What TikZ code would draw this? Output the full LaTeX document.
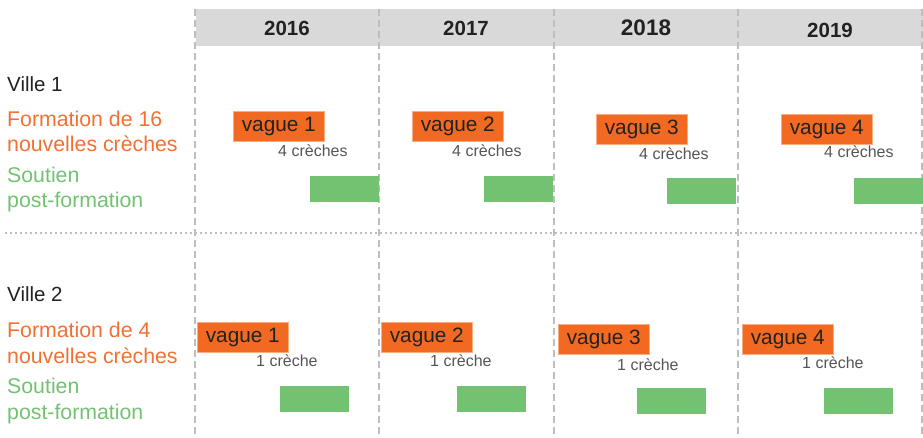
\documentclass[tikz,border=0pt]{standalone}
\usepackage{fontspec}
\setmainfont{Liberation Sans}
\usetikzlibrary{positioning}
\definecolor{vagueorange}{RGB}{242,106,34}
\definecolor{labelorange}{RGB}{242,112,50}
\definecolor{bargreen}{RGB}{114,194,113}
\definecolor{headgray}{RGB}{217,217,217}
\definecolor{linegray}{RGB}{190,190,190}
\definecolor{textdark}{RGB}{34,34,34}
\definecolor{textgray}{RGB}{85,85,85}

\begin{document}
\begin{tikzpicture}[x=1pt,y=-1pt,
	year/.style={font=\fontsize{20.5}{24}\selectfont\bfseries, text=textdark, inner sep=0},
	city/.style={anchor=base west, inner sep=0, text=textdark, font=\fontsize{20.5}{24}\selectfont},
	formtxt/.style={city, text=labelorange, font=\fontsize{21.3}{25}\selectfont},
	soutxt/.style={city, text=bargreen, font=\fontsize{21.3}{25}\selectfont},
	vague/.style={anchor=north west, fill=vagueorange, draw=vagueorange!55!white, line width=0.6pt,
		minimum width=91, minimum height=30, inner sep=0, text=textdark, font=\fontsize{20.8}{24}\selectfont},
	nb/.style={anchor=base west, inner sep=0, text=textgray, font=\fontsize{16}{19}\selectfont},
	bar/.style={anchor=north west, fill=bargreen, minimum width=69, minimum height=26, inner sep=0},
	colline/.style={linegray, line width=2pt, dash pattern=on 7pt off 4pt}]
			\useasboundingbox (0,0) rectangle (923,438);
			\fill[headgray] (196,9) rectangle (923,46);
			\node[year] (y2016) at (287,28) {2016};
			\node[year] (y2017) at (466,28) {2017};
			\node[year, font=\fontsize{22.5}{26}\selectfont\bfseries] (y2018) at (646,28) {2018};
			\node[year] (y2019) at (830,30) {2019};
			\draw[colline] (195,9) -- (195,438);
			\draw[colline] (379,9) -- (379,438);
			\draw[colline] (554,9) -- (554,438);
			\draw[colline] (738,9) -- (738,438);
			\draw[colline] (922,9) -- (922,438);
			\draw[linegray, line width=1.3pt, dash pattern=on 1.8pt off 3.2pt] (5,233) -- (923,233);
			% ville 1
			\node[city] (ville1) at (7,92) {Ville 1};
			\node[formtxt] (form1) at (7,127) {Formation de 16};
			\node[formtxt] (form1b) at (7,152) {nouvelles crèches};
			\node[soutxt] (sout1) at (7,183) {Soutien};
			\node[soutxt] (sout1b) at (7,208) {post-formation};
			\node[vague] (va1) at (233,111) {vague 1};
			\node[vague] (va2) at (412,111) {vague 2};
			\node[vague] (va3) at (596,114) {vague 3};
			\node[vague] (va4) at (781,114) {vague 4};
			\node[nb] (na1) at (278,157) {4 crèches};
			\node[nb] (na2) at (452,157) {4 crèches};
			\node[nb] (na3) at (639,160) {4 crèches};
			\node[nb] (na4) at (824,158) {4 crèches};
			\node[bar] (ba1) at (310,176) {};
			\node[bar] (ba2) at (484,176) {};
			\node[bar] (ba3) at (667,178) {};
			\node[bar] (ba4) at (854,178) {};
			% ville 2
			\node[city] (ville2) at (7,301) {Ville 2};
			\node[formtxt] (form2) at (7,337) {Formation de 4};
			\node[formtxt] (form2b) at (7,363) {nouvelles crèches};
			\node[soutxt] (sout2) at (7,393) {Soutien};
			\node[soutxt] (sout2b) at (7,419) {post-formation};
			\node[vague] (vb1) at (197,322) {vague 1};
			\node[vague] (vb2) at (381,322) {vague 2};
			\node[vague] (vb3) at (558,324) {vague 3};
			\node[vague] (vb4) at (742,324) {vague 4};
			\node[nb] (nb1) at (256,366) {1 crèche};
			\node[nb] (nb2) at (430,366) {1 crèche};
			\node[nb] (nb3) at (617,370) {1 crèche};
			\node[nb] (nb4) at (802,368) {1 crèche};
			\node[bar] (bb1) at (280,386) {};
			\node[bar] (bb2) at (457,386) {};
			\node[bar] (bb3) at (637,388) {};
			\node[bar] (bb4) at (824,388) {};
\end{tikzpicture}
\end{document}
